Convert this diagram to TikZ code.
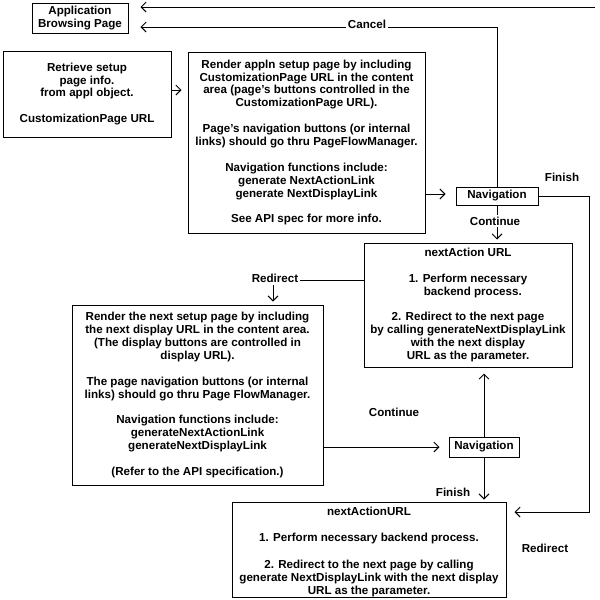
\documentclass[tikz,border=0pt]{standalone}
\usepackage{fontspec}
\setmainfont{Liberation Sans}
\usetikzlibrary{arrows.meta}
\newcommand{\dfont}{\bfseries\fontsize{11.6}{12.9}\selectfont}
\newcommand{\dfontwide}{\bfseries\fontsize{11.6}{13.2}\selectfont}
\begin{document}
\begin{tikzpicture}[x=1pt,y=-1pt,
  box/.style={draw, line width=1pt, align=center, inner sep=0pt, font=\dfont},
  lbl/.style={font=\dfont, inner sep=1.5pt, fill=white},
  conn/.style={line width=1pt},
  arr/.style={conn, -{Straight Barb[length=5pt,width=10pt,line width=0.9pt]}}]
\useasboundingbox[fill=white] (0,0) rectangle (600,600);

\node[box, minimum width=96pt, minimum height=30pt] (app) at (80,18) {Application\\Browsing Page};
\node[box, minimum width=168pt, minimum height=86pt] (retrieve) at (87,94)
  {Retrieve setup\\page info.\\from appl object.\\[12.9pt]CustomizationPage URL};
\node[box, minimum width=237pt, minimum height=181pt] (render1) at (306.5,142.5)
  {Render appln setup page by including\\CustomizationPage URL in the content\\area (page's buttons controlled in the\\CustomizationPage URL).\\[12.9pt]Page's navigation buttons (or internal\\links) should go thru PageFlowManager.\\[12.9pt]Navigation functions include:\\generate NextActionLink\\generate NextDisplayLink\\[12.9pt]See API spec for more info.};
\node[box, minimum width=82pt, minimum height=18pt] (nav1) at (497,196) {Navigation};
\node[box, minimum width=208pt, minimum height=124pt] (next1) at (468,305)
  {nextAction URL\\[12.9pt]1. Perform necessary\\\ \ \ backend process.\\[12.9pt]2. Redirect to the next page\\by calling generateNextDisplayLink\\with the next display\\URL as the parameter.};
\node[box, minimum width=251pt, minimum height=180pt] (render2) at (197.5,395)
  {Render the next setup page by including\\the next display URL in the content area.\\(The display buttons are controlled in\\display URL).\\[12.9pt]The page navigation buttons (or internal\\links) should go thru Page FlowManager.\\[12.9pt]Navigation functions include:\\generateNextActionLink\\generateNextDisplayLink\\[12.9pt](Refer to the API specification.)};
\node[box, minimum width=70pt, minimum height=20pt] (nav2) at (484,447) {Navigation};
\node[box, font=\dfontwide, minimum width=274pt, minimum height=95pt] (next2) at (369,549.5)
  {\rule{0pt}{13pt}nextActionURL\\[13.2pt]1. Perform necessary backend process.\\[13.2pt]2. Redirect to the next page by calling\\generate NextDisplayLink with the next display\\URL as the parameter.};

\coordinate (topend) at (595,7);
\coordinate (cancelrow) at (0,27);
\coordinate (finishturn) at (589,512);
\coordinate (redirturn) at (273,280);

% top return line
\draw[arr, shorten >=12pt] (topend) -- (topend -| app.east);
% cancel
\draw[arr, shorten >=12pt] (nav1.north) |- (cancelrow -| app.east);
\node[lbl] (cancel) at (367,24) {Cancel};
% retrieve -> render1
\draw[arr, shorten >=6pt] ([yshift=4pt]retrieve.east) -- ([yshift=4pt]retrieve.east -| render1.west);
% render1 -> nav1
\draw[arr, shorten >=10pt] ([yshift=2pt]render1.east |- nav1.west) -- ([yshift=2pt]nav1.west);
% finish
\draw[arr, shorten >=8pt] (nav1.east) -| (finishturn) -- (finishturn -| next2.east);
\node[font=\dfont, inner sep=0pt] (finish1) at (562,177) {Finish};
% continue
\draw[arr, shorten >=3pt] (nav1.south) -- (nav1.south |- next1.north);
\node[lbl, inner ysep=2pt] (cont1) at (495,221) {Continue};
% redirect
\draw[arr, shorten >=3pt] (next1.west |- redirturn) -| (render2.north -| redirturn);
\node[lbl, inner ysep=3pt] (redir1) at (275,278) {Redirect};
% render2 -> nav2
\draw[arr, shorten >=9pt] (render2.east |- nav2.west) -- (nav2.west);
\node[font=\dfont, inner sep=0pt] (cont2) at (394,412) {Continue};
% nav2 -> next1
\draw[arr, shorten >=6pt] (nav2.north) -- (nav2.north |- next1.south);
% nav2 -> next2
\draw[arr, shorten >=2pt] (nav2.south) -- (nav2.south |- next2.north);
\node[font=\dfont, inner sep=0pt] (finish2) at (453,492) {Finish};
\node[font=\dfont, inner sep=0pt] (redir2) at (545,548) {Redirect};
\end{tikzpicture}
\end{document}
